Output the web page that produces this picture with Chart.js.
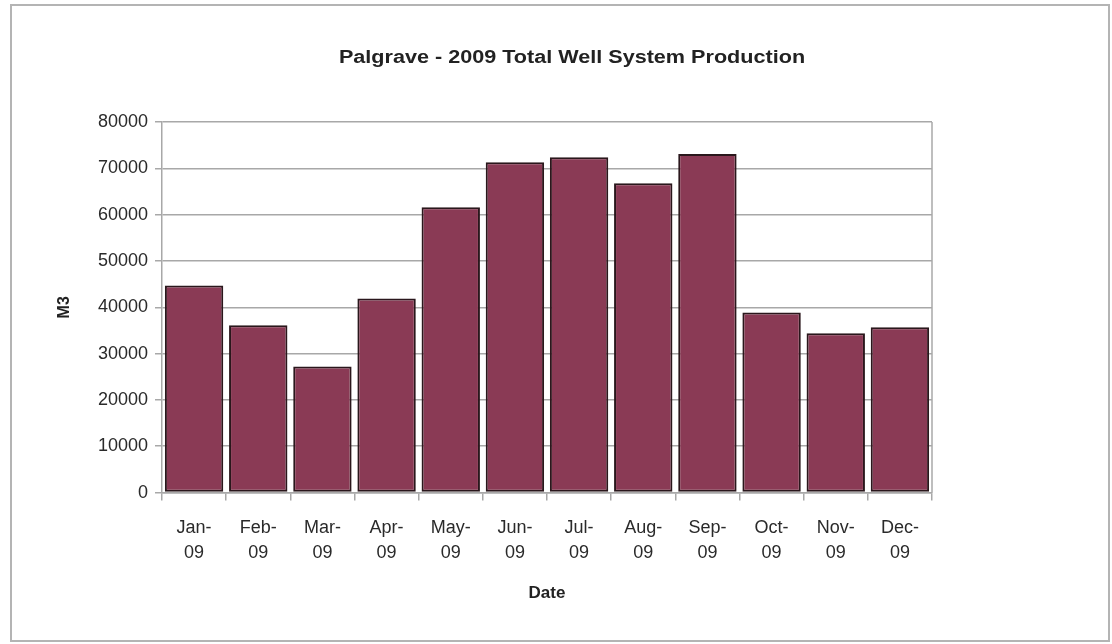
<!DOCTYPE html>
<html>
<head>
<meta charset="utf-8">
<script src="https://cdn.jsdelivr.net/npm/chart.js@4"></script>
<style>
    body { margin: 0; background: #fff; }
    #frame { position: absolute; left: 10px; top: 4px; width: 1096px; height: 634px; border: 2px solid #b4b4b4; }
    #wrap { position: absolute; left: 0; top: 0; width: 1112px; height: 644px; }
    #chartTitle {
        position: absolute; left: 0; top: 47px; width: 1144px; text-align: center;
        font: bold 18px "Liberation Sans", Arial, sans-serif; color: #222;
        transform: scaleX(1.2); transform-origin: 572px 0;
    }
</style>
</head>
<body>
<div id="frame"></div>
<div id="wrap"><canvas id="wellChart" width="1112" height="644"></canvas></div>
<div id="chartTitle">Palgrave - 2009 Total Well System Production</div>
<script>
// monthly production
var months = ['Jan-', 'Feb-', 'Mar-', 'Apr-', 'May-', 'Jun-', 'Jul-', 'Aug-', 'Sep-', 'Oct-', 'Nov-', 'Dec-'];
var yearLabel = '09';
var production = [44700, 36100, 27200, 41900, 61600, 71300, 72400, 66800, 73100, 38900, 34400, 35700];
var yTicks = [0, 10000, 20000, 30000, 40000, 50000, 60000, 70000, 80000];

var fontFamily = '"Liberation Sans", Arial, sans-serif';

// right edge of the plot box
var plotFrame = {
    id: 'plotFrame',
    afterDraw: function (chart) {
        var ctx = chart.ctx, a = chart.chartArea;
        ctx.save();
        ctx.strokeStyle = '#a8a8a8';
        ctx.lineWidth = 1.5;
        ctx.beginPath();
        ctx.moveTo(a.right, a.top);
        ctx.lineTo(a.right, a.bottom);
        ctx.stroke();
        ctx.restore();
    }
};

var ctx = document.getElementById('wellChart').getContext('2d');
var chart = new Chart(ctx, {
    type: 'bar',
    data: {
        labels: months.map(function (m) { return [m, yearLabel]; }),
        datasets: [{
            label: 'M3',
            data: production,
            backgroundColor: '#8a3a55',
            borderColor: '#2a171c',
            borderWidth: 2,
            borderSkipped: false,
            barPercentage: 0.91,
            categoryPercentage: 1.0
        }]
    },
    options: {
        responsive: false,
        animation: false,
        layout: { padding: { left: 50, right: 180, top: 122, bottom: 40 } },
        plugins: {
            legend: { display: false },
            tooltip: { enabled: false },
            title: { display: false }
        },
        scales: {
            x: {
                grid: { drawOnChartArea: false, drawTicks: true, tickLength: 8, color: '#a8a8a8', lineWidth: 1.5 },
                border: { color: '#a8a8a8', width: 1.5 },
                ticks: {
                    color: '#2a2a2a',
                    font: { family: fontFamily, size: 18, lineHeight: 1.39 },
                    maxRotation: 0,
                    padding: 15
                },
                title: {
                    display: true,
                    text: 'Date',
                    color: '#222',
                    font: { family: fontFamily, size: 17, weight: 'bold' },
                    padding: { top: 3, bottom: 0 }
                }
            },
            y: {
                min: 0,
                max: 80000,
                afterBuildTicks: function (axis) {
                    axis.ticks = yTicks.map(function (v) { return { value: v }; });
                },
                afterFit: function (axis) {
                    axis.width = 112;
                },
                grid: { color: '#a8a8a8', lineWidth: 1.5, tickLength: 7 },
                border: { color: '#a8a8a8', width: 1.5 },
                ticks: {
                    color: '#2a2a2a',
                    font: { family: fontFamily, size: 18 },
                    padding: 7,
                    callback: function (v) { return String(v); }
                },
                title: {
                    display: true,
                    text: 'M3',
                    color: '#222',
                    font: { family: fontFamily, size: 16, weight: 'bold' },
                    padding: { top: 5, bottom: 0 }
                }
            }
        }
    },
    plugins: [plotFrame]
});
</script>
</body>
</html>
